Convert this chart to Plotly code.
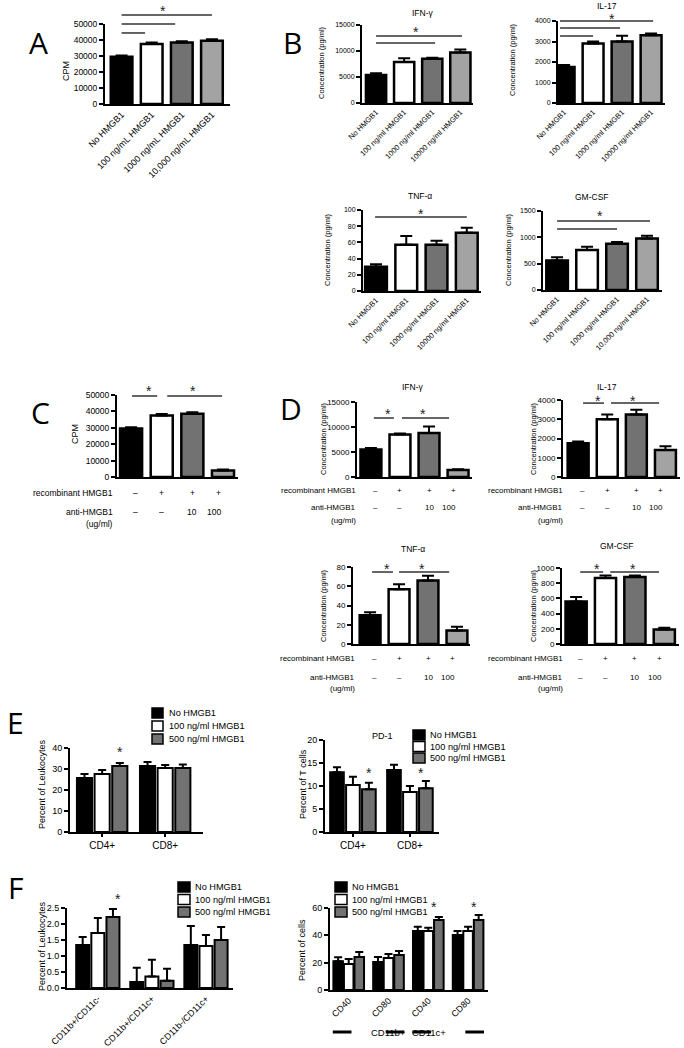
import plotly.graph_objects as go

W, H = 684, 1048

# ---------------- data ----------------
A_labels = ["No HMGB1", "100 ng/mL HMGB1", "1000 ng/mL HMGB1", "10,000 ng/mL HMGB1"]
A_cpm = [29500, 37500, 38500, 39500]
A_cpm_err = [800, 1000, 700, 900]

B_labels = ["No HMGB1", "100 ng/ml HMGB1", "1000 ng/ml HMGB1", "10000 ng/ml HMGB1"]
B_labels_gm = ["No HMGB1", "100 ng/ml HMGB1", "1000 ng/ml HMGB1", "10,000 ng/ml HMGB1"]
B_ifng = [5400, 7900, 8500, 9700]
B_ifng_err = [300, 700, 200, 600]
B_il17 = [1750, 2900, 3000, 3300]
B_il17_err = [100, 100, 280, 90]
B_tnfa = [30, 57, 57, 72]
B_tnfa_err = [3, 11, 5, 6]
B_gmcsf = [560, 760, 880, 980]
B_gmcsf_err = [60, 60, 30, 50]

recombinant = ["\u2013", "+", "+", "+"]
anti_hmgb1 = ["\u2013", "\u2013", "10", "100"]
C_cpm = [29500, 37500, 38500, 4000]
C_cpm_err = [900, 900, 1000, 600]
D_ifng = [5500, 8500, 8800, 1400]
D_ifng_err = [300, 200, 1300, 150]
D_il17 = [1750, 3000, 3250, 1400]
D_il17_err = [100, 250, 250, 200]
D_tnfa = [30, 57, 66, 14]
D_tnfa_err = [3, 5, 5, 4]
D_gmcsf = [560, 870, 880, 190]
D_gmcsf_err = [60, 30, 20, 25]

series_names = ["No HMGB1", "100 ng/ml HMGB1", "500 ng/ml HMGB1"]
E_groups = ["CD4+", "CD8+"]
E_leuk_no = [25.7, 31.4]
E_leuk_no_err = [1.9, 1.9]
E_leuk_100 = [27.6, 30.5]
E_leuk_100_err = [1.9, 1.4]
E_leuk_500 = [31.4, 30.5]
E_leuk_500_err = [1.4, 1.6]
E_pd1_no = [13.0, 13.5]
E_pd1_no_err = [1.1, 1.1]
E_pd1_100 = [10.2, 8.7]
E_pd1_100_err = [1.8, 1.3]
E_pd1_500 = [9.3, 9.5]
E_pd1_500_err = [1.4, 1.6]

F_groups = ["CD11b+/CD11c-", "CD11b+/CD11c+", "CD11b-/CD11c+"]
F_leuk_no = [1.34, 0.19, 1.34]
F_leuk_no_err = [0.25, 0.44, 0.60]
F_leuk_100 = [1.72, 0.36, 1.31]
F_leuk_100_err = [0.47, 0.52, 0.35]
F_leuk_500 = [2.22, 0.23, 1.50]
F_leuk_500_err = [0.25, 0.37, 0.41]
F_markers = ["CD40", "CD80", "CD40", "CD80"]
F_cell_types = ["CD11b+", "CD11c+"]
F_cells_no = [21.0, 20.5, 43.2, 40.2]
F_cells_no_err = [3.0, 3.6, 3.1, 3.0]
F_cells_100 = [19.0, 23.4, 43.2, 43.2]
F_cells_100_err = [3.7, 2.9, 2.3, 3.1]
F_cells_500 = [24.1, 25.6, 51.2, 51.2]
F_cells_500_err = [3.7, 2.9, 2.2, 3.7]

# ---------------- style ----------------
FONT = "Liberation Sans"
C4 = ["#000000", "#ffffff", "#727272", "#a3a3a3"]
C3 = ["#000000", "#ffffff", "#727272"]

fig = go.Figure()
layout = {}
shapes = []
annots = []
axinfo = {}


def names(n):
    return ("x" if n == 1 else f"x{n}"), ("y" if n == 1 else f"y{n}")


def add_axes(n, xpx, xr, ypx, ymax, dtick, fmt, tfs, xlabels=None, angle=0,
             xticks="", xfs=9):
    xs, ys = names(n)
    kx = "xaxis" if n == 1 else f"xaxis{n}"
    ky = "yaxis" if n == 1 else f"yaxis{n}"
    common = dict(showline=True, linewidth=2, linecolor="black", showgrid=False,
                  zeroline=False, tickcolor="black", fixedrange=True, automargin=False)
    xa = dict(domain=[xpx[0] / W, xpx[1] / W], range=list(xr), anchor=ys,
              ticks=xticks, ticklen=3, tickwidth=1.5, **common)
    if xlabels:
        xa.update(tickmode="array", tickvals=list(range(len(xlabels))), ticktext=xlabels,
                  tickangle=angle, tickfont=dict(family=FONT, size=xfs, color="black"),
                  showticklabels=True)
    else:
        xa.update(tickmode="array", tickvals=[], showticklabels=False)
    layout[kx] = xa
    layout[ky] = dict(domain=[1 - ypx[0] / H, 1 - ypx[1] / H], range=[0, ymax], anchor=xs,
                      ticks="outside", ticklen=4, tickwidth=1.5, dtick=dtick, tickformat=fmt,
                      tickfont=dict(family=FONT, size=tfs, color="black"), **common)
    axinfo[n] = (xr, ymax)


def dx(n, c):
    xr, _ = axinfo[n]
    return (c - xr[0]) / (xr[1] - xr[0])


def dy(n, v):
    return v / axinfo[n][1]


def single_bars(n, vals, errs):
    xs, ys = names(n)
    fig.add_trace(go.Bar(
        x=list(range(len(vals))), y=vals, width=0.72, xaxis=xs, yaxis=ys, showlegend=False,
        marker=dict(color=C4[:len(vals)], line=dict(color="black", width=2.5)),
        error_y=dict(type="data", array=errs, arrayminus=[0] * len(errs), symmetric=False,
                     color="black", thickness=2, width=6)))


def group_bars(n, series, bw=0.24, step=0.28):
    xs, ys = names(n)
    for k, (nm, vals, errs) in enumerate(series):
        fig.add_trace(go.Bar(
            x=list(range(len(vals))), y=vals, width=bw, offset=(k - 1) * step - bw / 2,
            name=nm, xaxis=xs, yaxis=ys, showlegend=False,
            marker=dict(color=C3[k], line=dict(color="black", width=2)),
            error_y=dict(type="data", array=errs, arrayminus=[0] * len(errs), symmetric=False,
                         color="black", thickness=2, width=4)))


def sig(n, lines, stars, star_size=14):
    xs, ys = names(n)
    for (a, b, v) in lines:
        shapes.append(dict(type="line", xref=f"{xs} domain", yref=f"{ys} domain",
                           x0=dx(n, a), x1=dx(n, b), y0=dy(n, v), y1=dy(n, v),
                           line=dict(color="#333333", width=1.5)))
    for (c, v) in stars:
        annots.append(dict(text="*", xref=f"{xs} domain", yref=f"{ys} domain",
                           x=dx(n, c), y=dy(n, v), showarrow=False, yanchor="middle",
                           yshift=-4, font=dict(family=FONT, size=star_size, color="#222")))


def text_px(t, x, y, size, anchor="center", angle=0, family=FONT, color="black"):
    annots.append(dict(text=t, xref="paper", yref="paper", x=x / W, y=1 - y / H,
                       showarrow=False, xanchor=anchor, yanchor="middle", textangle=angle,
                       font=dict(family=family, size=size, color=color)))


def rows(n, y1, y2, y3, xright, size):
    xs, _ = names(n)
    text_px("recombinant HMGB1", xright, y1, size, anchor="right")
    text_px("anti-HMGB1", xright, y2, size, anchor="right")
    text_px("(ug/ml)", xright, y3, size, anchor="right")
    for i in range(len(recombinant)):
        for lab, yy in ((recombinant[i], y1), (anti_hmgb1[i], y2)):
            annots.append(dict(text=lab, xref=f"{xs} domain", yref="paper", x=dx(n, i),
                               y=1 - yy / H, showarrow=False, yanchor="middle",
                               font=dict(family=FONT, size=size, color="black")))


def legend(x0, x1, ycs, hgt, tx, size):
    for k, yc in enumerate(ycs):
        shapes.append(dict(type="rect", xref="paper", yref="paper",
                           x0=x0 / W, x1=x1 / W, y0=1 - (yc + hgt / 2) / H, y1=1 - (yc - hgt / 2) / H,
                           fillcolor=C3[k], line=dict(color="black", width=1.5)))
        text_px(series_names[k], tx, yc, size, anchor="left")


# ---------- Panel A ----------
add_axes(1, (105, 230), (-0.55, 3.6), (104, 24), 50000, 10000, "d", 8.5, A_labels, -45, xfs=9)
single_bars(1, A_cpm, A_cpm_err)
sig(1, [(0, 0.78, 44400), (0, 1.78, 50000), (0, 3.0, 55600)], [(1.38, 60600)])
text_px("CPM", 66, 71, 9, angle=-90)
text_px("A", 38, 42, 30, family="Open Sans")

# ---------- Panel B ----------
add_axes(2, (362, 473), (-0.5, 3.45), (103, 25), 15000, 5000, "d", 7, B_labels, -45, xfs=7.5)
single_bars(2, B_ifng, B_ifng_err)
sig(2, [(0, 3.06, 12900), (0, 2.1, 11540)], [(1.42, 14420)])
text_px("IFN-\u03b3", 423, 13, 8.5)
text_px("Concentration (pg/ml)", 322, 63, 7.5, angle=-90)

add_axes(3, (558, 665), (-0.21, 3.48), (103, 21), 4000, 1000, "d", 7, B_labels, -45, xfs=7.5)
single_bars(3, B_il17, B_il17_err)
sig(3, [(-0.14, 3.07, 4000), (-0.14, 1.93, 3660), (-0.14, 1.0, 3270)], [(1.66, 4290)])
text_px("IL-17", 607, 6, 8.5)
text_px("Concentration (pg/ml)", 512, 60, 7.5, angle=-90)

add_axes(4, (363, 481), (-0.43, 3.47), (291, 210), 100, 20, "d", 7, B_labels, -45, xfs=7.5)
single_bars(4, B_tnfa, B_tnfa_err)
sig(4, [(-0.03, 3.0, 91.4)], [(1.49, 100)])
text_px("TNF-\u03b1", 420, 196, 8.5)
text_px("Concentration (pg/ml)", 327, 250, 7.5, angle=-90)

add_axes(5, (543, 662), (-0.47, 3.5), (290, 211), 1500, 500, "d", 7, B_labels_gm, -45, xfs=7.5)
single_bars(5, B_gmcsf, B_gmcsf_err)
sig(5, [(0, 3.1, 1310), (0, 2.0, 1158)], [(1.43, 1481)])
text_px("GM-CSF", 592, 197, 8.5)
text_px("Concentration (pg/ml)", 508, 250, 7.5, angle=-90)
text_px("B", 292, 42, 30, family="Open Sans")

# ---------- Panel C ----------
add_axes(6, (117, 238), (-0.46, 3.49), (477, 395), 50000, 10000, "d", 8.5)
single_bars(6, C_cpm, C_cpm_err)
sig(6, [(0.03, 0.85, 49400), (1.18, 2.97, 49400)], [(0.42, 54900), (2.02, 54900)])
text_px("CPM", 75, 434, 9, angle=-90)
rows(6, 493, 512, 524, 115, 8.5)
text_px("C", 40, 412, 30, family="Open Sans")

# ---------- Panel D ----------
add_axes(7, (357, 472), (-0.48, 3.48), (477, 402), 15000, 5000, "d", 8)
single_bars(7, D_ifng, D_ifng_err)
sig(7, [(0.1, 0.79, 11800), (1.07, 2.69, 11800)], [(0.41, 13400), (1.79, 13400)])
text_px("IFN-\u03b3", 413, 387, 8.5)
text_px("Concentration (pg/ml)", 323, 439, 7.5, angle=-90)
rows(7, 490, 507, 520, 358, 8)

add_axes(8, (563, 680), (-0.52, 3.5), (477, 400), 4000, 1000, "d", 8)
single_bars(8, D_il17, D_il17_err)
sig(8, [(0.17, 0.89, 3840), (1.13, 2.78, 3840)], [(0.52, 4150), (1.89, 4150)])
text_px("IL-17", 607, 387, 8.5)
text_px("Concentration (pg/ml)", 533, 439, 7.5, angle=-90)
rows(8, 490, 507, 520, 565, 8)

add_axes(9, (353, 470), (-0.59, 3.45), (644, 567), 80, 20, "d", 8)
single_bars(9, D_tnfa, D_tnfa_err)
sig(9, [(0.07, 0.79, 74.8), (1.0, 2.73, 74.8)], [(0.41, 82), (1.8, 82)])
text_px("TNF-\u03b1", 413, 549, 8.5)
text_px("Concentration (pg/ml)", 323, 606, 7.5, angle=-90)
rows(9, 658, 677, 688, 357, 8)

add_axes(10, (562, 679), (-0.48, 3.5), (644, 568), 1000, 200, "d", 8)
single_bars(10, D_gmcsf, D_gmcsf_err)
sig(10, [(0.14, 0.92, 947), (1.16, 2.82, 947)], [(0.54, 1040), (1.94, 1040)])
text_px("GM-CSF", 617, 546, 8.5)
text_px("Concentration (pg/ml)", 533, 606, 7.5, angle=-90)
rows(10, 658, 677, 688, 565, 8)
text_px("D", 291, 408, 30, family="Open Sans")

# ---------- Panel E ----------
add_axes(11, (70, 203), (-0.51, 1.6), (832, 748), 40, 10, "d", 9, E_groups, 0, "outside", 10)
group_bars(11, [(series_names[0], E_leuk_no, E_leuk_no_err),
                (series_names[1], E_leuk_100, E_leuk_100_err),
                (series_names[2], E_leuk_500, E_leuk_500_err)])
sig(11, [], [(0.28, 40)])
text_px("Percent of Leukocytes", 42, 784, 9, angle=-90)
legend(152, 163, [713, 726, 739], 10, 167, 9.2)
text_px("E", 15, 722, 30, family="Open Sans")

add_axes(12, (325, 439), (-0.49, 1.51), (832, 740), 20, 5, "d", 9, E_groups, 0, "outside", 10)
group_bars(12, [(series_names[0], E_pd1_no, E_pd1_no_err),
                (series_names[1], E_pd1_100, E_pd1_100_err),
                (series_names[2], E_pd1_500, E_pd1_500_err)])
sig(12, [], [(0.28, 13.7), (1.28, 13.7)])
text_px("PD-1", 382, 736, 9)
text_px("Percent of T cells", 303, 784, 9, angle=-90)
legend(413, 425, [735, 746.5, 758], 10, 428, 9.2)

# ---------- Panel F ----------
add_axes(13, (67, 233), (-0.57, 2.5), (988, 908), 2.5, 0.5, ".1f", 9, F_groups, -45, "", 9)
group_bars(13, [(series_names[0], F_leuk_no, F_leuk_no_err),
                (series_names[1], F_leuk_100, F_leuk_100_err),
                (series_names[2], F_leuk_500, F_leuk_500_err)])
sig(13, [], [(0.28, 2.9)])
text_px("Percent of Leukocytes", 42, 946, 9, angle=-90)
legend(178, 190, [887, 899.5, 912], 10, 193, 9.2)
text_px("F", 15, 887, 30, family="Open Sans")

add_axes(14, (330, 488), (-0.47, 3.5), (990, 908), 60, 20, "d", 9, F_markers, -45, "", 9)
group_bars(14, [(series_names[0], F_cells_no, F_cells_no_err),
                (series_names[1], F_cells_100, F_cells_100_err),
                (series_names[2], F_cells_500, F_cells_500_err)], bw=0.24, step=0.265)
sig(14, [], [(2.27, 63.6), (3.27, 63.6)])
text_px("Percent of cells", 302, 950, 9, angle=-90)
legend(335, 347, [887, 899.5, 912], 10, 350, 9.2)
# cell-type brackets under panel F right:  ---- label ----
for k, ct in enumerate(F_cell_types):
    base = 2 * k
    for a, b in ((base - 0.4, base + 0.07), (base + 0.93, base + 1.4)):
        shapes.append(dict(type="line", xref="x14 domain", yref="paper",
                           x0=dx(14, a), x1=dx(14, b), y0=1 - 1032 / H, y1=1 - 1032 / H,
                           line=dict(color="black", width=3)))
    annots.append(dict(text=ct, xref="x14 domain", yref="paper", x=dx(14, base + 0.5),
                       y=1 - 1032 / H, showarrow=False, yanchor="middle",
                       font=dict(family=FONT, size=9.5, color="black")))

fig.update_layout(
    template="none",
    width=W, height=H, margin=dict(l=0, r=0, t=0, b=0, autoexpand=False),
    paper_bgcolor="white", plot_bgcolor="white", barmode="overlay",
    showlegend=False, shapes=shapes, annotations=annots,
    font=dict(family=FONT, color="black"), **layout)

fig.write_html("out.html", config={"displayModeBar": False},
               post_script="document.body.style.margin='0px';document.body.style.padding='0px';")
